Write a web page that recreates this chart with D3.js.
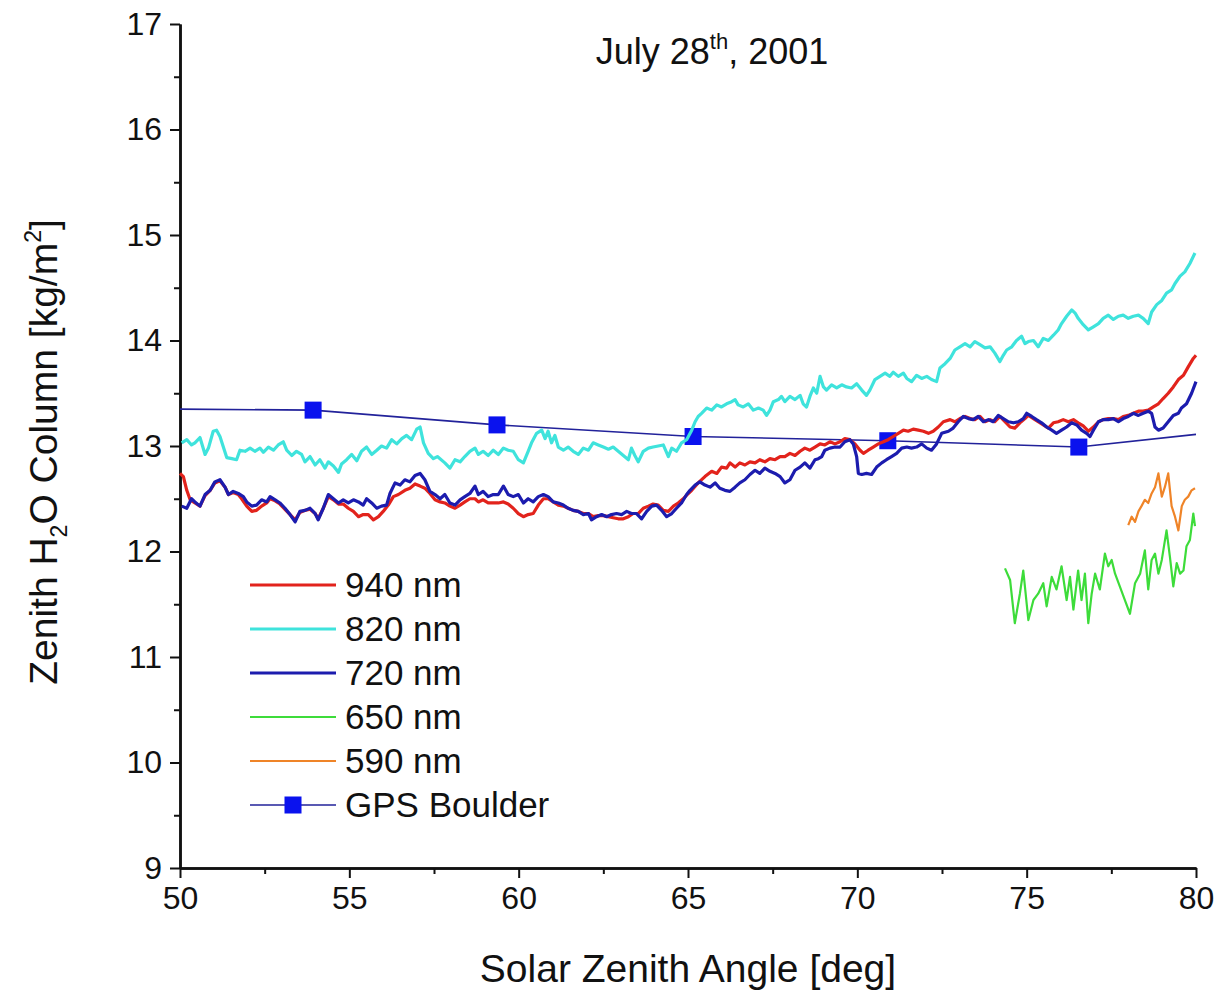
<!DOCTYPE html>
<html>
<head>
<meta charset="utf-8">
<script src="https://cdn.jsdelivr.net/npm/d3@7"></script>
<style>
  body { margin: 0; background: #fff; }
  text { font-family: "Liberation Sans", Arial, sans-serif; fill: #111; }
</style>
</head>
<body>
<svg id="chart" width="1220" height="998"></svg>
<script>
// Axis ticks
const xTicks = [50, 55, 60, 65, 70, 75, 80];
const xMinorTicks = [52.5, 57.5, 62.5, 67.5, 72.5, 77.5];
const yTicks = [9, 10, 11, 12, 13, 14, 15, 16, 17];
const yMinorTicks = [9.5, 10.5, 11.5, 12.5, 13.5, 14.5, 15.5, 16.5];

// Retrieved water vapour column per channel: [solar zenith angle, kg/m2]
const nm940 = [[50.00,12.74],[50.10,12.71],[50.20,12.58],[50.30,12.49],[50.44,12.46],[50.59,12.43],[50.74,12.53],[50.89,12.58],[51.03,12.65],[51.18,12.67],[51.33,12.61],[51.43,12.54],[51.57,12.56],[51.72,12.54],[51.82,12.50],[51.97,12.43],[52.12,12.38],[52.26,12.39],[52.41,12.43],[52.56,12.46],[52.66,12.50],[52.81,12.48],[52.95,12.45],[53.10,12.40],[53.25,12.35],[53.40,12.30],[53.54,12.37],[53.69,12.39],[53.84,12.40],[53.99,12.36],[54.08,12.31],[54.23,12.41],[54.38,12.52],[54.53,12.49],[54.68,12.45],[54.82,12.45],[54.97,12.41],[55.12,12.38],[55.27,12.33],[55.41,12.35],[55.56,12.35],[55.71,12.30],[55.86,12.33],[56.00,12.38],[56.15,12.44],[56.30,12.52],[56.45,12.54],[56.64,12.58],[56.79,12.60],[56.94,12.64],[57.09,12.62],[57.23,12.60],[57.38,12.55],[57.53,12.49],[57.68,12.47],[57.82,12.46],[57.97,12.43],[58.12,12.41],[58.27,12.44],[58.41,12.47],[58.56,12.50],[58.71,12.50],[58.81,12.47],[58.95,12.49],[59.10,12.46],[59.25,12.46],[59.40,12.46],[59.55,12.47],[59.69,12.45],[59.84,12.41],[59.99,12.36],[60.14,12.33],[60.28,12.35],[60.43,12.36],[60.58,12.44],[60.73,12.50],[60.87,12.50],[61.02,12.47],[61.17,12.44],[61.32,12.43],[61.46,12.41],[61.61,12.39],[61.76,12.38],[61.91,12.36],[62.06,12.36],[62.20,12.33],[62.35,12.34],[62.50,12.34],[62.65,12.33],[62.79,12.32],[62.94,12.31],[63.09,12.31],[63.24,12.33],[63.38,12.36],[63.53,12.36],[63.68,12.41],[63.83,12.43],[63.97,12.45],[64.12,12.44],[64.27,12.39],[64.42,12.38],[64.57,12.43],[64.71,12.46],[64.86,12.50],[65.01,12.55],[65.11,12.58],[65.30,12.65],[65.50,12.71],[65.70,12.76],[65.85,12.74],[65.99,12.80],[66.14,12.79],[66.24,12.84],[66.39,12.80],[66.53,12.84],[66.68,12.82],[66.83,12.85],[66.98,12.84],[67.12,12.87],[67.27,12.85],[67.42,12.88],[67.57,12.87],[67.72,12.90],[67.86,12.90],[68.01,12.93],[68.16,12.91],[68.31,12.95],[68.45,12.98],[68.60,12.96],[68.75,12.99],[68.90,13.02],[69.04,13.01],[69.19,13.04],[69.34,13.02],[69.49,13.04],[69.63,13.07],[69.78,13.06],[69.93,13.02],[70.08,12.96],[70.18,12.93],[70.32,12.96],[70.47,12.99],[70.62,13.02],[70.77,13.04],[70.91,13.06],[71.06,13.09],[71.21,13.12],[71.36,13.15],[71.50,13.14],[71.65,13.16],[71.80,13.15],[71.95,13.14],[72.10,13.12],[72.24,13.14],[72.39,13.18],[72.54,13.23],[72.74,13.25],[72.88,13.23],[73.03,13.26],[73.18,13.28],[73.33,13.26],[73.47,13.25],[73.62,13.28],[73.77,13.23],[73.92,13.25],[74.06,13.23],[74.21,13.28],[74.36,13.23],[74.51,13.18],[74.65,13.17],[74.80,13.22],[74.95,13.26],[75.05,13.29],[75.20,13.26],[75.34,13.23],[75.49,13.20],[75.64,13.17],[75.79,13.22],[75.93,13.23],[76.08,13.25],[76.23,13.23],[76.38,13.25],[76.52,13.22],[76.67,13.19],[76.82,13.14],[76.97,13.18],[77.12,13.23],[77.26,13.25],[77.41,13.26],[77.56,13.26],[77.71,13.25],[77.85,13.28],[78.00,13.29],[78.15,13.31],[78.30,13.33],[78.44,13.33],[78.59,13.34],[78.74,13.37],[78.89,13.40],[79.03,13.45],[79.18,13.50],[79.33,13.56],[79.48,13.63],[79.63,13.67],[79.77,13.75],[79.92,13.83],[80.00,13.86]];

const nm820 = [[50.05,13.03],[50.20,13.06],[50.34,13.01],[50.44,13.03],[50.59,13.08],[50.74,12.92],[50.84,12.98],[50.98,13.14],[51.08,13.15],[51.18,13.09],[51.28,12.99],[51.38,12.89],[51.53,12.88],[51.67,12.87],[51.77,12.96],[51.92,12.95],[52.07,12.98],[52.21,12.95],[52.36,12.98],[52.46,12.94],[52.61,12.99],[52.76,12.96],[52.90,13.01],[53.05,13.04],[53.15,12.96],[53.30,12.91],[53.44,12.95],[53.59,12.92],[53.69,12.85],[53.84,12.90],[53.99,12.82],[54.13,12.87],[54.28,12.79],[54.38,12.85],[54.53,12.81],[54.68,12.75],[54.77,12.83],[54.92,12.87],[55.07,12.92],[55.22,12.86],[55.36,12.95],[55.51,12.99],[55.66,12.92],[55.81,12.96],[55.95,13.00],[56.10,12.98],[56.25,13.06],[56.40,13.02],[56.55,13.07],[56.69,13.10],[56.84,13.06],[56.99,13.16],[57.09,13.18],[57.19,13.03],[57.33,12.93],[57.48,12.88],[57.60,12.90],[57.82,12.84],[57.97,12.79],[58.12,12.87],[58.27,12.85],[58.41,12.90],[58.56,12.95],[58.71,12.98],[58.81,12.92],[58.95,12.95],[59.10,12.91],[59.25,12.96],[59.40,12.92],[59.55,12.98],[59.69,12.96],[59.84,12.95],[59.99,12.87],[60.14,12.84],[60.28,12.95],[60.38,13.03],[60.53,13.12],[60.68,13.15],[60.78,13.07],[60.87,13.14],[60.97,13.03],[61.07,13.10],[61.17,12.99],[61.32,12.96],[61.46,12.99],[61.61,12.95],[61.76,12.92],[61.91,12.98],[62.06,12.96],[62.20,13.03],[62.35,13.01],[62.50,12.99],[62.65,12.97],[62.79,12.99],[62.94,12.95],[63.09,12.91],[63.24,12.87],[63.33,12.98],[63.43,12.91],[63.53,12.85],[63.68,12.95],[63.83,12.98],[63.97,12.99],[64.12,13.00],[64.27,13.01],[64.42,12.90],[64.52,12.98],[64.66,12.95],[64.81,13.03],[64.96,13.06],[65.11,13.15],[65.21,13.23],[65.30,13.28],[65.40,13.31],[65.55,13.36],[65.70,13.34],[65.85,13.39],[65.99,13.37],[66.14,13.40],[66.29,13.42],[66.39,13.44],[66.48,13.39],[66.63,13.37],[66.78,13.40],[66.93,13.34],[67.08,13.36],[67.22,13.34],[67.32,13.29],[67.42,13.34],[67.52,13.42],[67.67,13.44],[67.76,13.47],[67.86,13.42],[68.01,13.47],[68.16,13.44],[68.31,13.48],[68.40,13.40],[68.50,13.37],[68.60,13.47],[68.70,13.55],[68.80,13.50],[68.90,13.66],[69.00,13.56],[69.09,13.53],[69.24,13.58],[69.39,13.55],[69.54,13.58],[69.68,13.56],[69.83,13.55],[69.98,13.59],[70.13,13.53],[70.27,13.48],[70.37,13.53],[70.52,13.63],[70.67,13.66],[70.82,13.69],[70.96,13.66],[71.06,13.70],[71.21,13.66],[71.36,13.69],[71.46,13.64],[71.60,13.61],[71.75,13.67],[71.90,13.64],[72.05,13.66],[72.19,13.63],[72.34,13.61],[72.44,13.74],[72.59,13.78],[72.74,13.83],[72.88,13.91],[73.03,13.94],[73.18,13.97],[73.33,13.94],[73.47,13.99],[73.62,13.96],[73.77,13.93],[73.92,13.94],[74.06,13.88],[74.21,13.80],[74.31,13.86],[74.41,13.91],[74.56,13.94],[74.70,14.00],[74.85,14.04],[74.95,13.97],[75.05,13.99],[75.20,14.00],[75.34,13.94],[75.49,14.02],[75.64,14.00],[75.79,14.05],[75.93,14.10],[76.03,14.16],[76.18,14.23],[76.33,14.29],[76.43,14.26],[76.52,14.21],[76.67,14.15],[76.82,14.10],[76.97,14.13],[77.12,14.16],[77.26,14.21],[77.41,14.24],[77.56,14.20],[77.71,14.23],[77.85,14.24],[78.00,14.21],[78.15,14.23],[78.30,14.24],[78.44,14.21],[78.59,14.16],[78.69,14.27],[78.84,14.34],[78.99,14.38],[79.13,14.45],[79.28,14.48],[79.38,14.54],[79.53,14.61],[79.67,14.65],[79.82,14.73],[79.97,14.83]];

const nm720 = [[50.05,12.43],[50.20,12.41],[50.34,12.50],[50.44,12.47],[50.59,12.43],[50.74,12.54],[50.89,12.58],[51.03,12.66],[51.18,12.68],[51.33,12.61],[51.43,12.54],[51.57,12.57],[51.72,12.55],[51.87,12.52],[51.97,12.47],[52.12,12.43],[52.26,12.44],[52.41,12.49],[52.56,12.47],[52.66,12.52],[52.81,12.49],[52.95,12.46],[53.10,12.41],[53.25,12.35],[53.40,12.28],[53.54,12.38],[53.69,12.39],[53.84,12.41],[53.99,12.36],[54.08,12.30],[54.23,12.41],[54.38,12.54],[54.53,12.50],[54.68,12.46],[54.82,12.49],[54.97,12.46],[55.12,12.49],[55.27,12.47],[55.41,12.44],[55.51,12.50],[55.66,12.46],[55.81,12.41],[55.95,12.43],[56.10,12.44],[56.20,12.55],[56.35,12.65],[56.50,12.63],[56.64,12.68],[56.79,12.66],[56.94,12.72],[57.09,12.74],[57.23,12.68],[57.38,12.57],[57.53,12.54],[57.68,12.50],[57.82,12.54],[57.97,12.46],[58.12,12.44],[58.27,12.49],[58.41,12.52],[58.56,12.55],[58.71,12.62],[58.81,12.54],[58.95,12.57],[59.10,12.52],[59.25,12.54],[59.40,12.54],[59.55,12.62],[59.69,12.54],[59.84,12.52],[59.99,12.54],[60.14,12.46],[60.28,12.50],[60.43,12.47],[60.58,12.52],[60.73,12.54],[60.87,12.52],[61.02,12.47],[61.17,12.46],[61.32,12.44],[61.46,12.41],[61.61,12.39],[61.76,12.38],[61.91,12.35],[62.06,12.36],[62.15,12.30],[62.30,12.33],[62.45,12.35],[62.60,12.33],[62.74,12.35],[62.89,12.36],[63.04,12.35],[63.19,12.38],[63.33,12.36],[63.48,12.36],[63.63,12.31],[63.78,12.38],[63.93,12.43],[64.07,12.44],[64.22,12.39],[64.37,12.33],[64.52,12.36],[64.66,12.41],[64.81,12.46],[64.96,12.54],[65.06,12.58],[65.21,12.63],[65.35,12.66],[65.50,12.63],[65.65,12.61],[65.80,12.65],[65.94,12.60],[66.09,12.58],[66.24,12.57],[66.39,12.61],[66.53,12.65],[66.68,12.68],[66.83,12.73],[66.98,12.77],[67.12,12.74],[67.27,12.79],[67.42,12.76],[67.57,12.74],[67.72,12.71],[67.86,12.65],[68.01,12.68],[68.16,12.77],[68.31,12.80],[68.45,12.84],[68.60,12.79],[68.75,12.87],[68.85,12.88],[68.95,12.90],[69.04,12.96],[69.19,12.98],[69.34,12.99],[69.49,12.99],[69.63,13.04],[69.78,13.06],[69.88,13.02],[69.98,12.90],[70.03,12.74],[70.13,12.73],[70.27,12.74],[70.42,12.73],[70.57,12.80],[70.72,12.84],[70.86,12.87],[71.01,12.90],[71.16,12.93],[71.31,12.98],[71.46,12.99],[71.60,12.98],[71.75,12.99],[71.90,13.02],[72.05,12.98],[72.19,12.96],[72.34,13.02],[72.49,13.12],[72.69,13.14],[72.83,13.17],[72.98,13.23],[73.13,13.28],[73.28,13.26],[73.42,13.25],[73.57,13.28],[73.72,13.23],[73.87,13.25],[74.01,13.23],[74.16,13.29],[74.31,13.26],[74.46,13.23],[74.61,13.22],[74.75,13.23],[74.90,13.26],[75.00,13.31],[75.15,13.28],[75.29,13.25],[75.44,13.22],[75.59,13.18],[75.74,13.15],[75.88,13.12],[76.03,13.15],[76.18,13.18],[76.33,13.22],[76.48,13.20],[76.62,13.15],[76.77,13.12],[76.87,13.09],[76.97,13.15],[77.12,13.23],[77.26,13.25],[77.41,13.25],[77.56,13.26],[77.71,13.23],[77.85,13.26],[78.00,13.28],[78.15,13.31],[78.30,13.29],[78.44,13.31],[78.59,13.33],[78.69,13.31],[78.79,13.18],[78.89,13.15],[79.03,13.17],[79.18,13.23],[79.33,13.29],[79.48,13.31],[79.57,13.36],[79.72,13.40],[79.87,13.50],[80.00,13.61]];

const nm650 = [[74.36,11.84],[74.51,11.73],[74.65,11.32],[74.80,11.60],[74.90,11.82],[75.05,11.35],[75.20,11.54],[75.34,11.60],[75.49,11.70],[75.59,11.48],[75.74,11.76],[75.88,11.64],[76.03,11.86],[76.18,11.54],[76.28,11.76],[76.38,11.45],[76.52,11.82],[76.62,11.54],[76.72,11.79],[76.82,11.32],[76.92,11.60],[77.02,11.79],[77.16,11.64],[77.31,11.98],[77.41,11.86],[77.51,11.92],[77.61,11.79],[77.75,11.67],[77.90,11.54],[78.05,11.41],[78.20,11.70],[78.35,11.79],[78.49,12.01],[78.59,11.64],[78.69,11.92],[78.79,11.98],[78.89,11.79],[78.99,11.92],[79.13,12.20],[79.23,11.95],[79.33,11.67],[79.43,11.89],[79.53,11.79],[79.63,11.82],[79.72,12.05],[79.82,12.11],[79.92,12.36],[79.97,12.24]];

const nm590 = [[78.00,12.25],[78.10,12.33],[78.20,12.28],[78.30,12.38],[78.39,12.43],[78.49,12.49],[78.59,12.46],[78.69,12.55],[78.79,12.61],[78.89,12.74],[78.99,12.52],[79.08,12.61],[79.18,12.74],[79.28,12.43],[79.38,12.33],[79.48,12.20],[79.58,12.43],[79.67,12.49],[79.77,12.52],[79.87,12.58],[79.97,12.60]];

// GPS Boulder reference: [angle, kg/m2, drawn with a marker]
const gpsBoulder = [[50.00,13.35,false],[53.93,13.34,true],[59.36,13.20,true],[65.15,13.09,true],[70.90,13.05,true],[76.54,12.99,true],[80.00,13.11,false]];

const legendLabels = ["940 nm", "820 nm", "720 nm", "650 nm", "590 nm", "GPS Boulder"];

const svg = d3.select("#chart");
const x = d3.scaleLinear().domain([50, 80]).range([180, 1196]);
const y = d3.scaleLinear().domain([9, 17]).range([868, 24]);

const line = d3.line().x(d => x(d[0])).y(d => y(d[1]));

const styles = [
  { data: nm940, color: "#e2231c", width: 3.2 },
  { data: nm820, color: "#3fe3dc", width: 3.2 },
  { data: nm720, color: "#1c1cae", width: 3.2 },
  { data: nm650, color: "#3ddc3a", width: 2.2 },
  { data: nm590, color: "#ef8428", width: 2.2 }
];

// Axes
svg.append("g").attr("transform", `translate(${x(50)},0)`)
  .call(d3.axisLeft(y).tickValues(yTicks).tickSize(10).tickSizeOuter(0).tickPadding(8).tickFormat(d3.format("d")));
svg.append("g").attr("transform", `translate(${x(50)},0)`)
  .call(d3.axisLeft(y).tickValues(yMinorTicks).tickSize(6).tickSizeOuter(0).tickFormat(""));
svg.append("g").attr("transform", `translate(0,${y(9)})`)
  .call(d3.axisBottom(x).tickValues(xTicks).tickSize(10).tickSizeOuter(0).tickPadding(8).tickFormat(d3.format("d")));
svg.append("g").attr("transform", `translate(0,${y(9)})`)
  .call(d3.axisBottom(x).tickValues(xMinorTicks).tickSize(6).tickSizeOuter(0).tickFormat(""));

svg.selectAll(".domain").attr("stroke", "#111").attr("stroke-width", 2.5);
svg.selectAll(".tick line").attr("stroke", "#111").attr("stroke-width", 2);
svg.selectAll(".tick text").attr("font-size", 32).attr("fill", "#111")
  .attr("font-family", '"Liberation Sans", Arial, sans-serif');

// GPS line and markers
svg.append("path").datum(gpsBoulder).attr("d", line)
  .attr("fill", "none").attr("stroke", "#22229a").attr("stroke-width", 1.6);
svg.selectAll(".gps").data(gpsBoulder.filter(d => d[2])).enter().append("rect")
  .attr("x", d => x(d[0]) - 8.5).attr("y", d => y(d[1]) - 8.5)
  .attr("width", 17).attr("height", 17).attr("fill", "#0a12ee");

// Channel series (drawn back to front)
[styles[1], styles[0], styles[2], styles[3], styles[4]].forEach(s => {
  svg.append("path").datum(s.data).attr("d", line)
    .attr("fill", "none").attr("stroke", s.color).attr("stroke-width", s.width)
    .attr("stroke-linejoin", "round");
});

// Legend
const legend = svg.append("g").attr("transform", "translate(250,585)");
legendLabels.forEach((lbl, i) => {
  const row = legend.append("g").attr("transform", `translate(0,${i * 44})`);
  if (i < styles.length) {
    row.append("line").attr("x1", 0).attr("x2", 86).attr("y1", 0).attr("y2", 0)
      .attr("stroke", styles[i].color).attr("stroke-width", styles[i].width);
  } else {
    row.append("line").attr("x1", 0).attr("x2", 86).attr("y1", 0).attr("y2", 0)
      .attr("stroke", "#22229a").attr("stroke-width", 1.6);
    row.append("rect").attr("x", 34.5).attr("y", -8.5).attr("width", 17).attr("height", 17).attr("fill", "#0a12ee");
  }
  row.append("text").attr("x", 95).attr("y", 12).attr("font-size", 35).text(lbl);
});

// Title
const title = svg.append("text").attr("x", 712).attr("y", 64).attr("text-anchor", "middle").attr("font-size", 36);
title.append("tspan").text("July 28");
title.append("tspan").attr("dy", -15).attr("font-size", 22).text("th");
title.append("tspan").attr("dy", 15).text(", 2001");

// Axis titles
svg.append("text").attr("x", 688).attr("y", 982).attr("text-anchor", "middle")
  .attr("font-size", 39).text("Solar Zenith Angle [deg]");

const yt = svg.append("text").attr("transform", "translate(57,452) rotate(-90)")
  .attr("text-anchor", "middle").attr("font-size", 39);
yt.append("tspan").text("Zenith H");
yt.append("tspan").attr("dy", 10).attr("font-size", 23).text("2");
yt.append("tspan").attr("dy", -10).text("O Column [kg/m");
yt.append("tspan").attr("dy", -16).attr("font-size", 23).text("2");
yt.append("tspan").attr("dy", 16).text("]");
</script>
</body>
</html>
